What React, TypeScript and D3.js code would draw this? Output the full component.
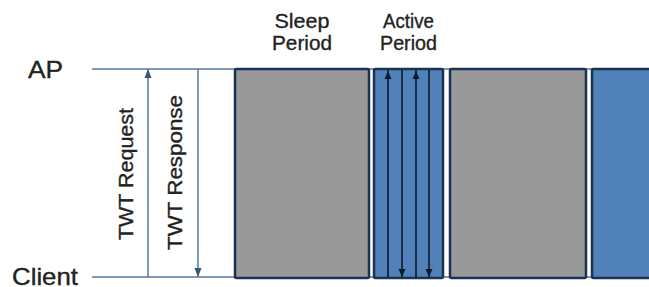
import React from "react";
import * as d3 from "d3";

// Timeline lanes
const lanes = ["AP", "Client"];

// Periods (time units along the timeline)
const periodKinds = ["sleep", "active", "sleep", "active"];
const periodStart = [143, 282, 358, 500];
const periodEnd = [277, 351, 494, 600];

// Period labels
const periodLabelIndex = [0, 1];
const periodLabelLines = [
  ["Sleep", "Period"],
  ["Active", "Period"],
];

// Setup messages
const setupNames = ["TWT Request", "TWT Response"];
const setupTimes = [56, 106];
const setupDirs = ["up", "down"];

// Frames inside the first active period
const frameTimes = [296, 310, 324, 337];
const frameDirs = ["up", "down", "up", "down"];

const W = 649;
const H = 287;

export default function App() {
  const x = d3.scaleLinear().domain([0, 557]).range([92, 649]);
  const y = d3.scalePoint<string>().domain(lanes).range([69, 277]);
  const yAP = y("AP")!;
  const yCl = y("Client")!;

  const tri = (cx: number, tipY: number, dir: string, w: number, h: number) => {
    const p = d3.path();
    const baseY = dir === "up" ? tipY + h : tipY - h;
    p.moveTo(cx, tipY);
    p.lineTo(cx - w / 2, baseY);
    p.lineTo(cx + w / 2, baseY);
    p.closePath();
    return p.toString();
  };

  const lineColor = "#55789a";
  const font = "'Liberation Sans', Arial, sans-serif";
  const textColor = "#222";
  const thick = { stroke: textColor, strokeWidth: 0.35 };

  const laneLabel = [
    { t: "AP", x: 28, len: 35, base: 78 },
    { t: "Client", x: 12, len: 66, base: 285 },
  ];
  const plLen = [
    [55, 60],
    [51, 57],
  ];

  const setupLabel = [
    { bx: 133, cy: 174, len: 132 },
    { bx: 182, cy: 172.5, len: 155 },
  ];

  return (
    <svg
      width={W}
      height={H}
      style={{ position: "absolute", left: 0, top: 0, background: "#fff" }}
    >
      {/* lane lines */}
      {lanes.map((l) => (
        <line
          key={l}
          x1={x(0)}
          x2={W}
          y1={y(l)}
          y2={y(l)}
          stroke={lineColor}
          strokeWidth={1.5}
        />
      ))}
      {/* lane labels */}
      {laneLabel.map((d) => (
        <text
          key={d.t}
          x={d.x}
          y={d.base}
          fontFamily={font}
          fontSize={24}
          fill={textColor}
          {...thick}
          textLength={d.len}
          lengthAdjust="spacingAndGlyphs"
        >
          {d.t}
        </text>
      ))}
      {/* periods */}
      {periodKinds.map((k, i) => (
        <rect
          key={i}
          x={x(periodStart[i])}
          y={yAP}
          width={x(periodEnd[i]) - x(periodStart[i])}
          height={yCl - yAP + 1}
          fill={k === "sleep" ? "#999999" : "#5082b9"}
          stroke="#1a3352"
          strokeWidth={2.5}
          rx={1.5}
        />
      ))}
      {/* period labels */}
      {periodLabelIndex.map((pi, j) => {
        const cx = (x(periodStart[pi]) + x(periodEnd[pi])) / 2;
        return periodLabelLines[j].map((ln, k) => (
          <text
            key={`${j}-${k}`}
            x={cx}
            y={28 + k * 22}
            textAnchor="middle"
            fontFamily={font}
            fontSize={21}
            fill={textColor}
            {...thick}
            textLength={plLen[j][k]}
            lengthAdjust="spacingAndGlyphs"
          >
            {ln}
          </text>
        ));
      })}
      {/* frames in active period */}
      {frameTimes.map((t, i) => {
        const cx = x(t);
        const up = frameDirs[i] === "up";
        return (
          <g key={i}>
            <line
              x1={cx}
              x2={cx}
              y1={yAP + 1}
              y2={yCl}
              stroke="#0d1a2a"
              strokeWidth={1.6}
            />
            <path
              d={tri(cx, up ? yAP + 2 : yCl, frameDirs[i], 7, 8)}
              fill="#0d1a2a"
            />
          </g>
        );
      })}
      {/* setup messages */}
      {setupTimes.map((t, i) => {
        const cx = x(t);
        const up = setupDirs[i] === "up";
        return (
          <g key={i}>
            <line
              x1={cx}
              x2={cx}
              y1={yAP}
              y2={yCl}
              stroke={lineColor}
              strokeWidth={1.5}
            />
            <path
              d={tri(cx, up ? yAP : yCl, setupDirs[i], 7, 9)}
              fill="#33587c"
            />
            <text
              transform={`translate(${setupLabel[i].bx},${setupLabel[i].cy}) rotate(-90)`}
              textAnchor="middle"
              fontFamily={font}
              fontSize={20}
              fill={textColor}
              {...thick}
              textLength={setupLabel[i].len}
              lengthAdjust="spacingAndGlyphs"
            >
              {setupNames[i]}
            </text>
          </g>
        );
      })}
    </svg>
  );
}
